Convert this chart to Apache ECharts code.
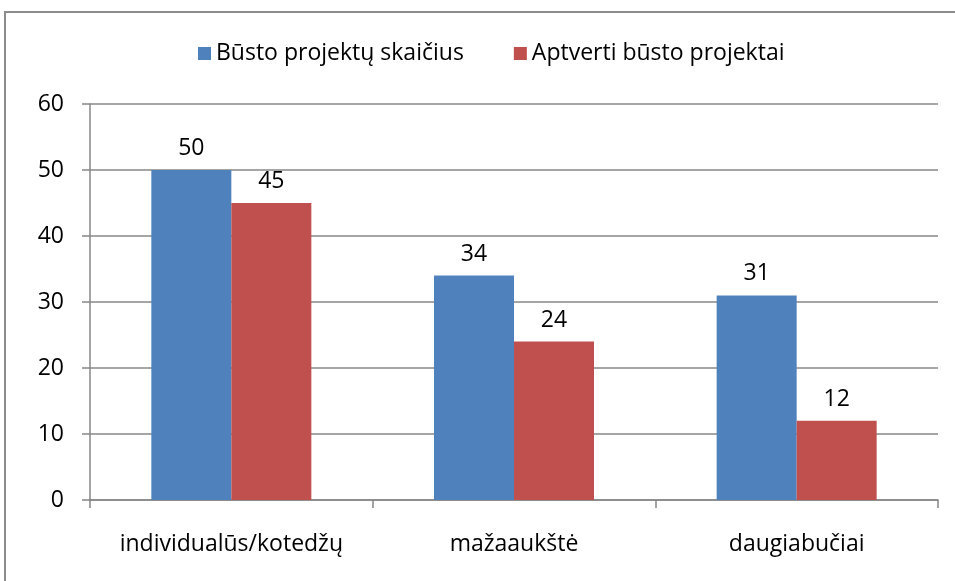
<!DOCTYPE html>
<html>
<head>
    <meta charset="utf-8">
    <title>ECharts</title>
    <script src="https://cdn.jsdelivr.net/npm/echarts@6/dist/echarts.min.js"></script>
    <style>
        html, body { margin: 0; padding: 0; background: #fff; }
        #main { width: 955px; height: 581px; }
    </style>
</head>
<body>
<div id="main"></div>
<script type="text/javascript">
    var categories = ['individualūs/kotedžų', 'mažaaukštė', 'daugiabučiai'];
    var seriesNames = ['Būsto projektų skaičius', 'Aptverti būsto projektai'];
    var projectCount = [50, 34, 31];
    var fencedProjects = [45, 24, 12];

    var font = '"Open Sans", "Noto Sans", sans-serif';
    var fs = 23;
    var myChart = echarts.init(document.getElementById('main'));

    var option = {
        backgroundColor: '#fff',
        textStyle: { fontFamily: font },
        // outer frame
        graphic: [{
            type: 'rect',
            shape: { x: 5, y: 12, width: 1000, height: 700 },
            style: { fill: 'none', stroke: '#8c8c8c', lineWidth: 2 },
            silent: true
        }],
        legend: {
            top: 37,
            left: 193,
            itemWidth: 13,
            itemHeight: 13,
            itemGap: 50,
            icon: 'rect',
            textStyle: { fontSize: fs, color: '#000', fontFamily: font },
            data: seriesNames
        },
        grid: { left: 90, right: 17, top: 104, bottom: 81 },
        xAxis: {
            type: 'category',
            data: categories,
            axisLine: { lineStyle: { color: '#878787', width: 1.5 } },
            axisTick: { show: true, length: 8, lineStyle: { color: '#878787', width: 1.5 } },
            axisLabel: { interval: 0, margin: 33, fontSize: fs, color: '#000', fontFamily: font }
        },
        yAxis: {
            type: 'value',
            min: 0,
            max: 60,
            interval: 10,
            axisLine: { show: true, lineStyle: { color: '#878787', width: 1.5 } },
            axisTick: { show: true, length: 8, lineStyle: { color: '#878787', width: 1.5 } },
            splitLine: { lineStyle: { color: '#878787', width: 1.5 } },
            axisLabel: { margin: 26, fontSize: fs, color: '#000', fontFamily: font }
        },
        series: [{
            name: seriesNames[0],
            type: 'bar',
            data: projectCount,
            barWidth: 80,
            barGap: '0%',
            itemStyle: { color: '#4f81bd' },
            label: { show: true, position: 'top', distance: 10, fontSize: fs, color: '#000', fontFamily: font }
        }, {
            name: seriesNames[1],
            type: 'bar',
            data: fencedProjects,
            barWidth: 80,
            barGap: '0%',
            itemStyle: { color: '#c0504d' },
            label: { show: true, position: 'top', distance: 10, fontSize: fs, color: '#000', fontFamily: font }
        }]
    };
    myChart.setOption(option);
</script>
</body>
</html>
